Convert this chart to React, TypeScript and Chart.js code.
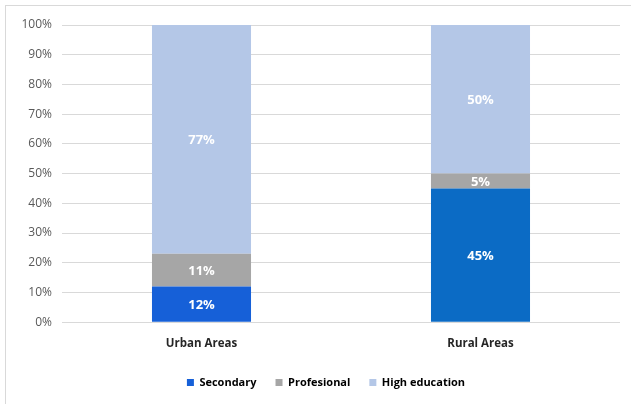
import React, { useEffect, useRef } from "react";
import { Chart, registerables } from "chart.js";

Chart.register(...registerables);

const categories = ["Urban Areas", "Rural Areas"];
const secondary = [12, 45];
const profesional = [11, 5];
const highEducation = [77, 50];
const seriesNames = ["Secondary", "Profesional", "High education"];
const yTickStep = 10;

const FONT = "'Open Sans', 'Noto Sans', sans-serif";

const labelPlugin = {
  id: "segLabels",
  afterDatasetsDraw(chart: any) {
    const ctx = chart.ctx;
    ctx.save();
    ctx.fillStyle = "#ffffff";
    ctx.font = `bold 13px ${FONT}`;
    ctx.textAlign = "center";
    ctx.textBaseline = "middle";
    chart.data.datasets.forEach((ds: any, di: number) => {
      const meta = chart.getDatasetMeta(di);
      meta.data.forEach((bar: any, i: number) => {
        const v = ds.data[i];
        const props = bar.getProps(["x", "y", "base"], true);
        const cy = (props.y + props.base) / 2;
        ctx.fillText(`${v}%`, props.x, cy + 1);
      });
    });
    ctx.restore();
  },
};

const legendShift = {
  id: "legendShift",
  afterLayout(chart: any) {
    const lg = chart.legend;
    if (lg) {
      lg.left += 16;
      lg.right += 16;
    }
  },
};

export default function App() {
  const ref = useRef<HTMLCanvasElement | null>(null);
  useEffect(() => {
    if (!ref.current) return;
    const chart = new Chart(ref.current, {
      type: "bar",
      data: {
        labels: categories,
        datasets: [
          { label: seriesNames[0], data: secondary, backgroundColor: ["#1660D8", "#0B6BC5"] as any },
          { label: seriesNames[1], data: profesional, backgroundColor: "#A6A6A6" },
          { label: seriesNames[2], data: highEducation, backgroundColor: "#B4C7E7" },
        ],
      },
      plugins: [labelPlugin, legendShift],
      options: {
        animation: false,
        responsive: false,
        maintainAspectRatio: false,
        layout: { padding: { left: 0, right: 11, top: 25, bottom: 6 } },
        datasets: {
          bar: { categoryPercentage: 1, barPercentage: 0.355, borderWidth: 0 },
        },
        plugins: {
          tooltip: { enabled: false },
          legend: {
            position: "bottom",
            labels: {
              color: "#404040",
              font: { family: FONT, size: 11, weight: "bold" },
              boxWidth: 7,
              boxHeight: 7,
              padding: 19,
              generateLabels: (chart: any) =>
                chart.data.datasets.map((ds: any, i: number) => ({
                  text: ds.label,
                  fillStyle: i === 0 ? "#1660D8" : ds.backgroundColor,
                  strokeStyle: "transparent",
                  lineWidth: 0,
                  datasetIndex: i,
                  hidden: false,
                })),
            },
          },
        },
        scales: {
          x: {
            stacked: true,
            grid: { display: false },
            border: { display: false },
            ticks: {
              color: "#262626",
              font: { family: FONT, size: 11.5, weight: "bold" },
              padding: 7,
            },
          },
          y: {
            stacked: true,
            min: 0,
            max: 100,
            afterFit: (scale: any) => {
              scale.width = 62;
            },
            grid: { color: "#D9D9D9", drawTicks: false, lineWidth: 1 },
            border: { display: false },
            ticks: {
              stepSize: yTickStep,
              padding: 10,
              color: "#595959",
              font: { family: FONT, size: 12 },
              callback: (v: any) => `${v}%`,
            },
          },
        },
      },
    } as any);
    return () => chart.destroy();
  }, []);

  return (
    <div style={{ position: "fixed", left: 0, top: 0, width: 631, height: 404, background: "#fff" }}>
      <div
        style={{
          position: "absolute",
          left: 5,
          top: 5,
          width: 626,
          height: 399,
          borderTop: "1px solid #D9D9D9",
          borderLeft: "1px solid #D9D9D9",
          boxSizing: "border-box",
        }}
      />
      <canvas ref={ref} width={631} height={404} style={{ position: "absolute", left: 0, top: 0 }} />
    </div>
  );
}
